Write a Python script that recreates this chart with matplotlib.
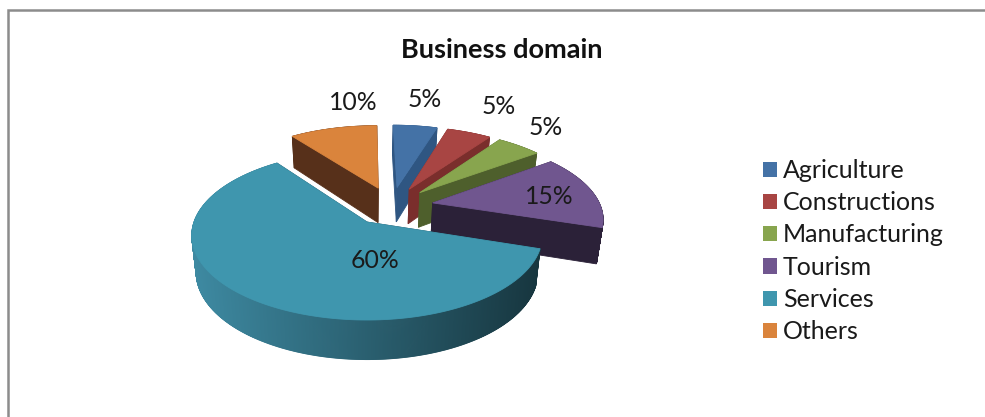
import numpy as np
import matplotlib
matplotlib.use("Agg")
import matplotlib.pyplot as plt
from matplotlib.patches import Polygon, Patch
from matplotlib.colors import to_rgb

categories = ["Agriculture", "Constructions", "Manufacturing", "Tourism", "Services", "Others"]
values = [5, 5, 5, 15, 60, 10]
title = "Business domain"

top_colors = ["#4472A6", "#A84543", "#88A54E", "#70568F", "#3F96AE", "#DA843C"]
wall_colors = ["#2F5682", "#7A2E2C", "#4E5F2C", "#2B2138", "#1F4652", "#57301A"]

# where the percent labels sit, in pixels
label_x = [425, 499, 546, 549, 375, 353]
label_y = [99, 106, 127, 196, 260, 102]

plt.rcParams['font.family'] = ['Lato', 'DejaVu Sans']

# perspective of the pie, fitted by eye against the picture
rx = 173.0
ry = 82.3
k = 0.16
depth = 36.0
origin = np.array([367.0, 222.0])
center = np.array([0.147, -0.202])
explode = 0.25


def project(u, v, z=0.0):
    w = 1 - k * v
    x = rx * u / w * (1 - 0.025 * z)
    y = ry * v / w + z * depth * (1 + 0.1 * v)
    return origin[0] + x, origin[1] + y


def ring(a0, a1, shift, n=60):
    a = np.linspace(a0, a1, n)
    return center[0] + shift[0] + np.sin(a), center[1] + shift[1] - np.cos(a)


def quad(ax, p, color, zorder):
    ax.add_patch(Polygon(p, closed=True, facecolor=color, edgecolor=color, linewidth=0.6, zorder=zorder))


def draw_slice(ax, a0, a1, top, wall, zorder, gradient=False):
    mid = (a0 + a1) / 2
    shift = explode * np.array([np.sin(mid), -np.cos(mid)])
    au, av = center + shift
    u, v = ring(a0, a1, shift, n=int(200 * (a1 - a0)) + 10)

    # flat walls running from the tip out to the rim
    for i in [0, -1]:
        quad(ax, [project(au, av), project(u[i], v[i]), project(u[i], v[i], 1), project(au, av, 1)], wall, zorder)

    # rim, cut in small pieces so it can carry a gradient
    for i in range(len(u) - 1):
        c = wall
        if gradient:
            x = project(u[i], v[i])[0]
            t = np.clip((x - 190) / 350, 0, 1)
            c = tuple((1 - t) * np.array(to_rgb("#3E8AA2")) + t * np.array(to_rgb("#17363F")))
        quad(ax, [project(u[i], v[i]), project(u[i + 1], v[i + 1]),
                  project(u[i + 1], v[i + 1], 1), project(u[i], v[i], 1)], c, zorder + 0.1)

    pts = [project(au, av)] + [project(a, b) for a, b in zip(u, v)]
    quad(ax, pts, top, zorder + 0.2)


fig = plt.figure(figsize=(9.85, 4.17), dpi=100)
ax = fig.add_axes([0, 0, 1, 1])
ax.set_xlim(0, 985)
ax.set_ylim(417, 0)
ax.axis('off')

# frame, only top and left show
ax.plot([8, 8, 985], [417, 10, 10], color="#8C8C8C", linewidth=1.8, solid_joinstyle='miter', zorder=1)

edges = np.cumsum([0] + values) / np.sum(values) * 2 * np.pi

# back to front, services goes last since it overlaps tourism
order = [5, 0, 1, 2, 3, 4]
for n, i in enumerate(order):
    draw_slice(ax, edges[i], edges[i + 1], top_colors[i], wall_colors[i], 2 + n, gradient=categories[i] == "Services")

for i in range(len(values)):
    ax.text(label_x[i], label_y[i], f"{values[i]}%", fontsize=17.8, color="#1a1a1a",
            ha='center', va='center', zorder=20)

ax.text(502, 50, title, fontsize=19.5, fontweight='bold', color="#111111", ha='center', va='center')

handles = [Patch(facecolor=top_colors[i], edgecolor='none', label=categories[i]) for i in range(len(categories))]
ax.legend(handles=handles, loc='upper left', bbox_to_anchor=(763, 159), bbox_transform=ax.transData,
          frameon=False, fontsize=18, labelcolor="#1a1a1a", handlelength=0.56, handleheight=0.56,
          handletextpad=0.24, labelspacing=0.37, borderpad=0, borderaxespad=0)

fig.savefig("out.png", dpi=100, facecolor="white")
